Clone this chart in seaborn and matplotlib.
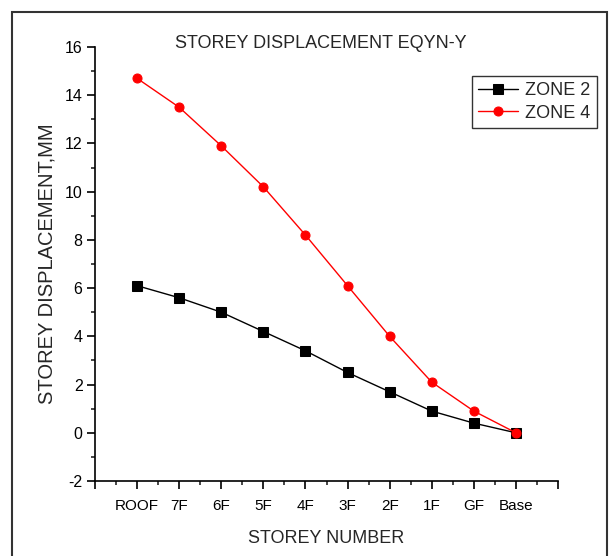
import matplotlib
matplotlib.use("Agg")
import matplotlib.pyplot as plt
import matplotlib.patches as mpatches
from matplotlib.ticker import MultipleLocator, FixedLocator
import seaborn as sns
import pandas as pd

storeys = ["ROOF", "7F", "6F", "5F", "4F", "3F", "2F", "1F", "GF", "Base"]
zone2 = [6.1, 5.6, 5.0, 4.2, 3.4, 2.5, 1.7, 0.9, 0.4, 0.0]
zone4 = [14.7, 13.5, 11.9, 10.2, 8.2, 6.1, 4.0, 2.1, 0.9, 0.0]
series_names = ["ZONE 2", "ZONE 4"]

df = pd.DataFrame({
    "storey": storeys * 2,
    "disp": zone2 + zone4,
    "zone": [series_names[0]] * len(storeys) + [series_names[1]] * len(storeys),
})

sns.set_style("ticks")
plt.rcParams["font.family"] = ["Liberation Sans", "DejaVu Sans"]
plt.rcParams["axes.unicode_minus"] = False

fig = plt.figure(figsize=(6.14, 5.56), dpi=100)
ax = fig.add_axes([95/614, 1-481/556, (558-95)/614, (481-47)/556])

sns.lineplot(data=df, x="storey", y="disp", hue="zone", style="zone",
             palette={"ZONE 2": "black", "ZONE 4": "red"},
             markers={"ZONE 2": "s", "ZONE 4": "o"},
             dashes=False, sort=False, markersize=6.5, linewidth=1,
             ax=ax)
for ln in ax.lines:
    ln.set_markeredgecolor(ln.get_color())

ax.set_xlim(-1, 10)
ax.set_ylim(-2, 16)
ax.yaxis.set_major_locator(MultipleLocator(2))
ax.yaxis.set_minor_locator(MultipleLocator(1))
ax.xaxis.set_major_locator(FixedLocator(list(range(-1, 11))))
ax.xaxis.set_minor_locator(FixedLocator([i + 0.5 for i in range(-1, 10)]))
ax.set_xticklabels([""] + storeys + [""])
sns.despine(ax=ax)
for s in ("left", "bottom"):
    ax.spines[s].set_linewidth(1.2)
    ax.spines[s].set_color("black")
ax.tick_params(which="major", direction="out", length=6, width=1.2, colors="black")
ax.tick_params(axis="y", which="major", pad=3, labelsize=11.5)
ax.tick_params(axis="x", which="major", pad=7, labelsize=11)
ax.tick_params(which="minor", direction="out", length=3, width=1.2)

ax.set_xlabel("STOREY NUMBER", fontsize=13, labelpad=12)
ax.set_ylabel("STOREY DISPLACEMENT,MM", fontsize=14.5, labelpad=6)
fig.text(321/614, 1-43/556, "STOREY DISPLACEMENT EQYN-Y", ha="center", va="center", fontsize=13)

leg = ax.legend(title=None, loc="upper left", bbox_to_anchor=(472/614, 1-76/556),
                bbox_transform=fig.transFigure, frameon=True, fancybox=False,
                edgecolor="black", fontsize=13, handlelength=2.2, borderpad=0.35,
                labelspacing=0.3, handletextpad=0.4, borderaxespad=0)
leg.get_frame().set_linewidth(1.0)

fig.patches.append(mpatches.Rectangle((12/614, -0.05), (607-12)/614, (1-12/556)+0.05,
                                      transform=fig.transFigure, fill=False,
                                      edgecolor="#333333", linewidth=1.5))
fig.savefig("out.png", dpi=100)
